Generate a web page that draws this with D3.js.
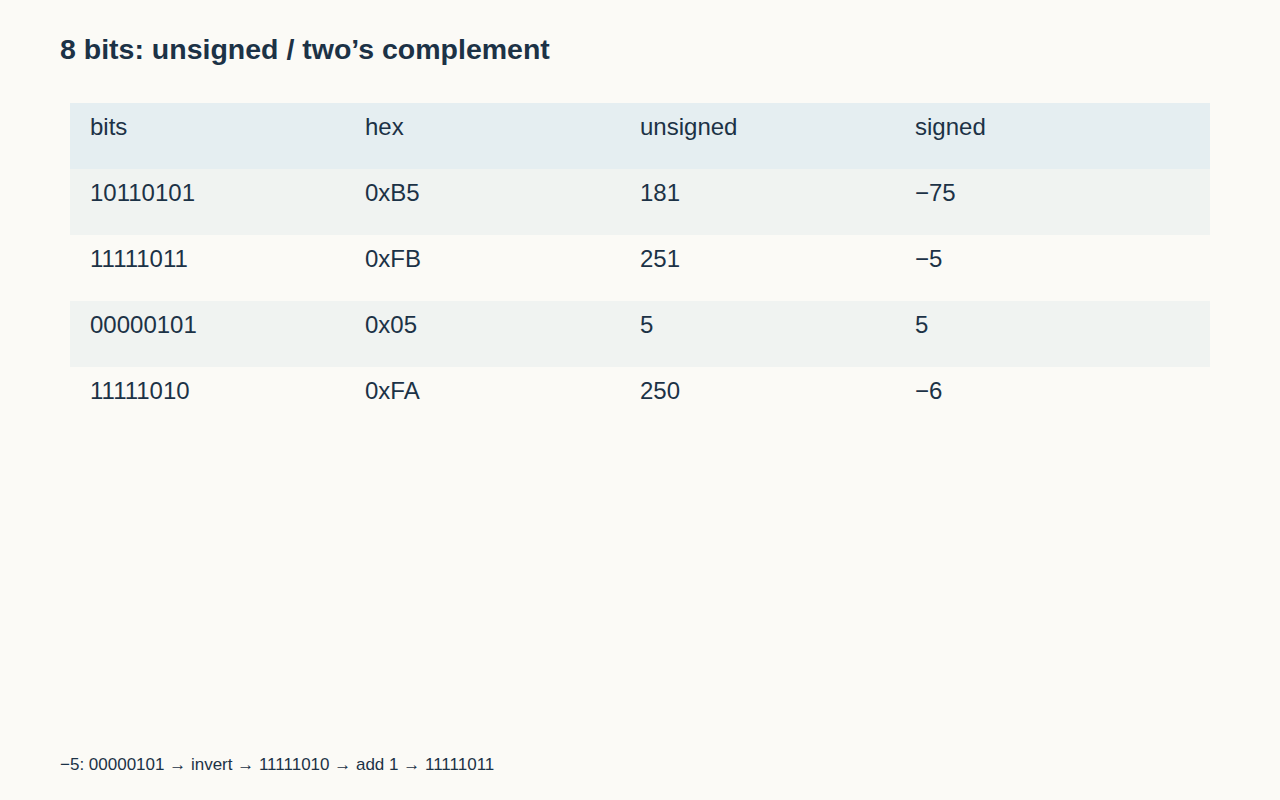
<!DOCTYPE html>
<html><head><meta charset="utf-8">
<script src="https://cdn.jsdelivr.net/npm/d3@7"></script>
<style>body{margin:0;background:#fbfaf6;}svg{display:block;font-family:"Liberation Sans",Arial,sans-serif;}</style>
</head><body>
<svg id="c" width="1280" height="800"></svg>
<script>
const headers = ["bits","hex","unsigned","signed"];
const bits = ["10110101","11111011","00000101","11111010"];
const hex = ["0xB5","0xFB","0x05","0xFA"];
const unsignedVals = ["181","251","5","250"];
const signedVals = ["\u221275","\u22125","5","\u22126"];
const title = "8 bits: unsigned / two\u2019s complement";
const note = "\u22125: 00000101 \u2192 invert \u2192 11111010 \u2192 add 1 \u2192 11111011";

const svg = d3.select("#c");
const ink = "#1c3246";
svg.append("text").attr("x",60).attr("y",59).attr("font-size",28.5).attr("font-weight","bold").attr("fill",ink).text(title);
const rows = [headers].concat(bits.map((b,i)=>[b,hex[i],unsignedVals[i],signedVals[i]]));
const y = d3.scaleBand().domain(d3.range(rows.length)).range([103,103+66*rows.length]);
const x = d3.scaleBand().domain(d3.range(4)).range([70,1170]);
const g = svg.selectAll("g.row").data(rows).join("g").attr("class","row").attr("transform",(d,i)=>`translate(0,${y(i)})`);
g.append("rect").attr("x",70).attr("width",1140).attr("height",y.bandwidth())
 .attr("fill",(d,i)=>i===0?"#e5eef1":(i%2===1?"#f0f3f1":"none"));
g.selectAll("text").data(d=>d).join("text").attr("x",(d,j)=>x(j)+20).attr("y",32)
 .attr("font-size",24).attr("fill",ink).text(d=>d);
svg.append("text").attr("x",60).attr("y",770).attr("font-size",17).attr("fill",ink).text(note);
</script></body></html>
